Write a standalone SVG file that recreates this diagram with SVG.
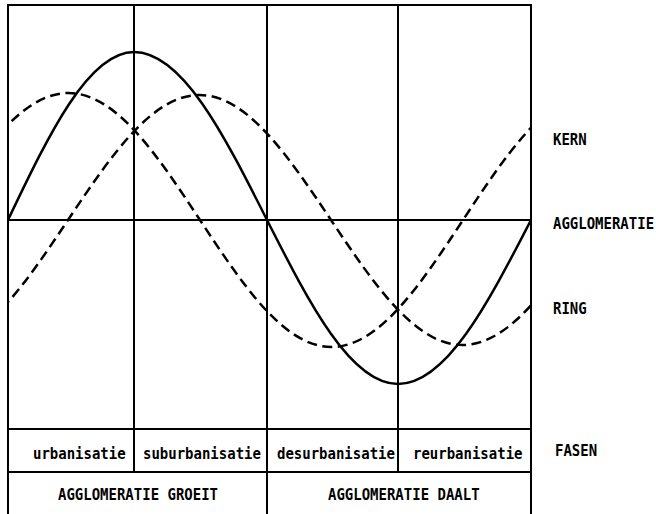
<svg xmlns="http://www.w3.org/2000/svg" width="656" height="514" viewBox="0 0 656 514">
  <style>
    .grid { stroke: #000; stroke-width: 2; fill: none; stroke-linecap: square; }
    .solid { stroke: #000; stroke-width: 2.5; fill: none; }
    .dash { stroke: #000; stroke-width: 2.5; fill: none; stroke-dasharray: 10 5.5; }
    .lbl { font-family: "DejaVu Sans Mono", "Liberation Mono", monospace; font-size: 14px; font-weight: bold; fill: #000; }
  </style>
  <defs>
    <clipPath id="plot">
      <rect x="8" y="5" width="523" height="424"/>
    </clipPath>
  </defs>
  <rect width="656" height="514" fill="#fff"/>

  <g id="frame" class="grid">
    <line x1="8" y1="5" x2="531" y2="5"/>
    <line x1="8" y1="5" x2="8" y2="514"/>
    <line x1="531" y1="5" x2="531" y2="514"/>
    <line x1="134" y1="5" x2="134" y2="472"/>
    <line x1="267" y1="5" x2="267" y2="514"/>
    <line x1="398" y1="5" x2="398" y2="472"/>
    <line x1="8" y1="220" x2="531" y2="220"/>
    <line x1="8" y1="429" x2="531" y2="429"/>
    <line x1="8" y1="472" x2="531" y2="472"/>
  </g>

  <g id="curves" clip-path="url(#plot)">
    <path id="agglomeratie" class="solid" d="M8,220 C49.09,133.93 88.4,52 134,52 C182.13,52 223.62,133.93 267,220 C309.72,304.02 350.59,384 398,384 C446.13,384 487.62,304.02 531,220"/>
    <path id="kern" class="dash" d="M-63,220 C-20.11,154.94 20.91,93 68.5,93 C116.09,93 157.11,154.94 200,220 C242.89,285.06 283.91,347 331.5,347 C379.09,347 420.11,285.06 463,220 C505.89,154.94 546.91,93 594.5,93"/>
    <path id="ring" class="dash" d="M-63.5,345 C-15.91,345 25.11,284.04 68,220 C110.89,155.96 151.91,95 199.5,95 C247.09,95 288.11,155.96 331,220 C373.89,284.04 414.91,345 462.5,345 C510.09,345 551.11,284.04 594,220"/>
  </g>

  <g id="legend">
    <text class="lbl" transform="translate(553,145) scale(1,1.1)">KERN</text>
    <text class="lbl" transform="translate(553,229) scale(1,1.1)">AGGLOMERATIE</text>
    <text class="lbl" transform="translate(553,314) scale(1,1.1)">RING</text>
    <text class="lbl" transform="translate(555,456) scale(1,1.1)">FASEN</text>
  </g>

  <g id="phase-urbanisatie"><text class="lbl" transform="translate(33,459) scale(1,1.1)">urbanisatie</text></g>
  <g id="phase-suburbanisatie"><text class="lbl" transform="translate(143,459) scale(1,1.1)">suburbanisatie</text></g>
  <g id="phase-desurbanisatie"><text class="lbl" transform="translate(277,459) scale(1,1.1)">desurbanisatie</text></g>
  <g id="phase-reurbanisatie"><text class="lbl" transform="translate(413,459) scale(1,1.1)">reurbanisatie</text></g>
  <g id="groeit"><text class="lbl" transform="translate(58,500) scale(1,1.1)">AGGLOMERATIE GROEIT</text></g>
  <g id="daalt"><text class="lbl" transform="translate(328,500) scale(1,1.1)">AGGLOMERATIE DAALT</text></g>
</svg>
